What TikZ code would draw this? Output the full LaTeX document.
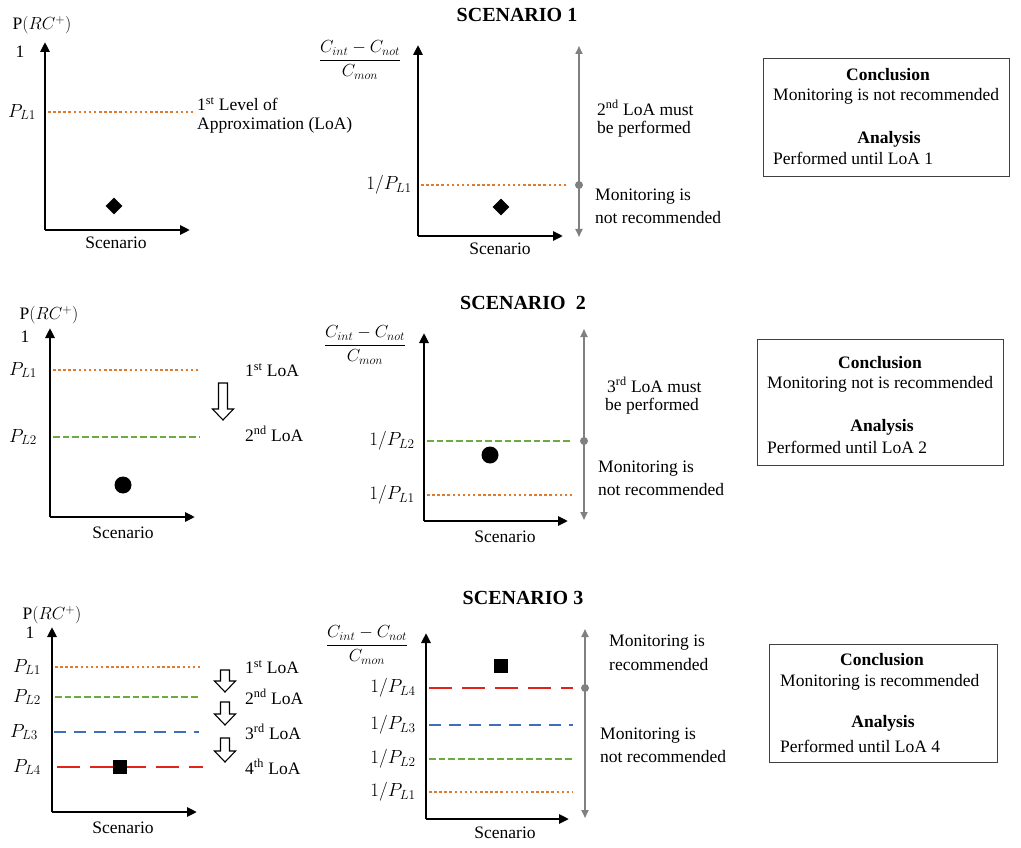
\RequirePackage{fix-cm}
\documentclass[tikz,border=0pt]{standalone}
\usepackage{amsmath}
\usepackage{fontspec}
\setmainfont{Liberation Serif}
\usetikzlibrary{arrows.meta,shapes.geometric}
\definecolor{lorange}{HTML}{E07B2E}
\definecolor{lgreen}{HTML}{6DAA3F}
\definecolor{lblue}{HTML}{3F6FB8}
\definecolor{lred}{HTML}{E2231A}
\definecolor{lgray}{HTML}{808080}
\newcommand{\hollowdown}[3]{%
  \draw[line width=1.1pt,fill=white] (#1-4.5,#2) -- (#1+4.5,#2) -- (#1+4.5,#3-11) -- (#1+10.5,#3-11) -- (#1,#3) -- (#1-10.5,#3-11) -- (#1-4.5,#3-11) -- cycle;}
\tikzset{
  txt/.style={font=\fontsize{17.5}{21}\selectfont, inner sep=0pt},
  mth/.style={font=\fontsize{19}{22}\selectfont, inner sep=0pt},
  ttl/.style={font=\fontsize{20}{24}\selectfont\bfseries, inner sep=0pt},
  bld/.style={font=\fontsize{17.5}{21}\selectfont\bfseries, inner sep=0pt},
  axis/.style={line width=2.8pt, -{Triangle[length=10pt,width=9pt]}},
  lvlA/.style={lorange, line width=2.7pt, dash pattern=on 2.5pt off 2.6pt},
  lvlB/.style={lgreen, line width=2.7pt, dash pattern=on 6.7pt off 3pt},
  lvlC/.style={lblue, line width=2.7pt, dash pattern=on 12pt off 8pt},
  lvlD/.style={lred, line width=2.9pt, dash pattern=on 23pt off 10pt},
  garrow/.style={lgray, line width=1.8pt, {Triangle[length=8pt,width=7pt]}-{Triangle[length=8pt,width=7pt]}},
  gdot/.style={circle, fill=lgray, minimum size=8pt, inner sep=0pt},
  dmd/.style={diamond, fill=black, minimum size=17pt, inner sep=0pt},
  blob/.style={circle, fill=black, minimum size=17pt, inner sep=0pt},
  sq/.style={rectangle, fill=black, minimum size=14pt, inner sep=0pt},
  cbox/.style={draw=black!75, line width=1pt, rectangle, inner sep=0pt},
}
\begin{document}
\begin{tikzpicture}[x=1pt,y=-1pt]
\useasboundingbox (0,0) rectangle (1021,848);

% ================= SCENARIO 1 =================
\coordinate (a1o) at (45,230); \coordinate (a1t) at (45,42); \coordinate (a1r) at (190,230);
\draw[axis] (a1o) -- (a1t);
\draw[axis] (a1o) -- (a1r);
\node[txt] (p1y) at (42,25) {P$(RC^{+})$};
\node[txt] (p1one) at (20,52) {1};
\node[mth] (p1l1) at (22,112) {$P_{L1}$};
\coordinate (p1l1a) at (48,112); \coordinate (p1l1b) at (193,112);
\draw[lvlA] (p1l1a) -- (p1l1b);
\node[dmd] (p1pt) at (114,206) {};
\node[txt] (p1sc) at (116,243) {Scenario};
\node[txt,anchor=west] (p1t1) at (197,104) {1\textsuperscript{st} Level of};
\node[txt,anchor=west] (p1t2) at (197,125) {Approximation (LoA)};

\node[ttl] (s1) at (517,15) {SCENARIO 1};
\node[txt] (m1frac) at (360,60) {$\dfrac{C_{int}-C_{not}}{C_{mon}}$};
\coordinate (m1o) at (418,236); \coordinate (m1t) at (418,45); \coordinate (m1r) at (563,236);
\draw[axis] (m1o) -- (m1t);
\draw[axis] (m1o) -- (m1r);
\node[mth] (m1l1) at (389,185) {$1/P_{L1}$};
\coordinate (m1l1a) at (421,185); \coordinate (m1l1b) at (566,185);
\draw[lvlA] (m1l1a) -- (m1l1b);
\node[dmd] (m1pt) at (501,207) {};
\node[txt] (m1sc) at (500,249) {Scenario};
\coordinate (g1t) at (579,46); \coordinate (g1b) at (579,237);
\draw[garrow] (g1b) -- (g1t);
\node[gdot] (g1d) at (579,185) {};
\node[txt,anchor=west] (m1a1) at (597,108) {2\textsuperscript{nd} LoA must};
\node[txt,anchor=west] (m1a2) at (597,129) {be performed};
\node[txt,anchor=west] (m1b1) at (595,197) {Monitoring is};
\node[txt,anchor=west] (m1b2) at (595,218) {not recommended};

\node[cbox, minimum width=246pt, minimum height=118pt] (box1) at (886,118) {};
\node[bld] (b1h1) at (888,75) {Conclusion};
\node[txt,anchor=west] (b1l1) at (773,96) {Monitoring is not recommended};
\node[bld] (b1h2) at (889,139) {Analysis};
\node[txt,anchor=west] (b1l2) at (773,158) {Performed until LoA 1};

% ================= SCENARIO 2 =================
\coordinate (a2o) at (50,517); \coordinate (a2t) at (50,328); \coordinate (a2r) at (195,517);
\draw[axis] (a2o) -- (a2t);
\draw[axis] (a2o) -- (a2r);
\node[txt] (p2y) at (49,315) {P$(RC^{+})$};
\node[txt] (p2one) at (25,337) {1};
\node[mth] (p2l1) at (23,370) {$P_{L1}$};
\node[mth] (p2l2) at (23,437) {$P_{L2}$};
\coordinate (p2l1a) at (53,370); \coordinate (p2l1b) at (200,370);
\coordinate (p2l2a) at (53,437); \coordinate (p2l2b) at (200,437);
\draw[lvlA] (p2l1a) -- (p2l1b);
\draw[lvlB] (p2l2a) -- (p2l2b);
\node[blob] (p2pt) at (123,485) {};
\node[txt] (p2sc) at (123,533) {Scenario};
\hollowdown{223}{383}{420}
\node[txt,anchor=west] (p2t1) at (245,370) {1\textsuperscript{st} LoA};
\node[txt,anchor=west] (p2t2) at (245,434) {2\textsuperscript{nd} LoA};

\node[ttl] (s2) at (523,303) {SCENARIO\ \ 2};
\node[txt] (m2frac) at (365,345) {$\dfrac{C_{int}-C_{not}}{C_{mon}}$};
\coordinate (m2o) at (424,521); \coordinate (m2t) at (424,333); \coordinate (m2r) at (568,521);
\draw[axis] (m2o) -- (m2t);
\draw[axis] (m2o) -- (m2r);
\node[mth] (m2l2) at (392,441) {$1/P_{L2}$};
\node[mth] (m2l1) at (392,495) {$1/P_{L1}$};
\coordinate (m2l2a) at (427,441); \coordinate (m2l2b) at (572,441);
\coordinate (m2l1a) at (427,495); \coordinate (m2l1b) at (572,495);
\draw[lvlB] (m2l2a) -- (m2l2b);
\draw[lvlA] (m2l1a) -- (m2l1b);
\node[blob] (m2pt) at (490,455) {};
\node[txt] (m2sc) at (505,537) {Scenario};
\coordinate (g2t) at (584,329); \coordinate (g2b) at (584,520);
\draw[garrow] (g2b) -- (g2t);
\node[gdot] (g2d) at (584,441) {};
\node[txt,anchor=west] (m2a1) at (607,385) {3\textsuperscript{rd} LoA must};
\node[txt,anchor=west] (m2a2) at (605,406) {be performed};
\node[txt,anchor=west] (m2b1) at (598,469) {Monitoring is};
\node[txt,anchor=west] (m2b2) at (598,490) {not recommended};

\node[cbox, minimum width=246pt, minimum height=126pt] (box2) at (880,402) {};
\node[bld] (b2h1) at (880,363) {Conclusion};
\node[txt,anchor=west] (b2l1) at (767,384) {Monitoring not is recommended};
\node[bld] (b2h2) at (882,427) {Analysis};
\node[txt,anchor=west] (b2l2) at (767,447) {Performed until LoA 2};

% ================= SCENARIO 3 =================
\coordinate (a3o) at (52,812); \coordinate (a3t) at (52,627); \coordinate (a3r) at (197,812);
\draw[axis] (a3o) -- (a3t);
\draw[axis] (a3o) -- (a3r);
\node[txt] (p3y) at (52,615) {P$(RC^{+})$};
\node[txt] (p3one) at (30,633) {1};
\node[mth] (p3l1) at (27,667) {$P_{L1}$};
\node[mth] (p3l2) at (27,697) {$P_{L2}$};
\node[mth] (p3l3) at (24,732) {$P_{L3}$};
\node[mth] (p3l4) at (27,767) {$P_{L4}$};
\coordinate (p3l1a) at (55,667); \coordinate (p3l1b) at (200,667);
\coordinate (p3l2a) at (55,697); \coordinate (p3l2b) at (200,697);
\coordinate (p3l3a) at (54,732); \coordinate (p3l3b) at (199,732);
\coordinate (p3l4a) at (57,767); \coordinate (p3l4b) at (203,767);
\draw[lvlA] (p3l1a) -- (p3l1b);
\draw[lvlB] (p3l2a) -- (p3l2b);
\draw[lvlC] (p3l3a) -- (p3l3b);
\draw[lvlD] (p3l4a) -- (p3l4b);
\node[sq] (p3pt) at (120,767) {};
\node[txt] (p3sc) at (123,828) {Scenario};
\hollowdown{225}{670}{692}
\hollowdown{225}{702}{725}
\hollowdown{225}{738}{762}
\node[txt,anchor=west] (p3t1) at (245,667) {1\textsuperscript{st} LoA};
\node[txt,anchor=west] (p3t2) at (245,697) {2\textsuperscript{nd} LoA};
\node[txt,anchor=west] (p3t3) at (245,732) {3\textsuperscript{rd} LoA};
\node[txt,anchor=west] (p3t4) at (245,767) {4\textsuperscript{th} LoA};

\node[ttl] (s3) at (523,598) {SCENARIO 3};
\node[txt] (m3frac) at (367,645) {$\dfrac{C_{int}-C_{not}}{C_{mon}}$};
\coordinate (m3o) at (426,819); \coordinate (m3t) at (426,633); \coordinate (m3r) at (569,819);
\draw[axis] (m3o) -- (m3t);
\draw[axis] (m3o) -- (m3r);
\node[mth] (m3l4) at (393,688) {$1/P_{L4}$};
\node[mth] (m3l3) at (393,725) {$1/P_{L3}$};
\node[mth] (m3l2) at (393,759) {$1/P_{L2}$};
\node[mth] (m3l1) at (393,792) {$1/P_{L1}$};
\coordinate (m3l4a) at (429,688); \coordinate (m3l4b) at (573,688);
\coordinate (m3l3a) at (429,725); \coordinate (m3l3b) at (573,725);
\coordinate (m3l2a) at (429,759); \coordinate (m3l2b) at (573,759);
\coordinate (m3l1a) at (429,792); \coordinate (m3l1b) at (573,792);
\draw[lvlD] (m3l4a) -- (m3l4b);
\draw[lvlC] (m3l3a) -- (m3l3b);
\draw[lvlB] (m3l2a) -- (m3l2b);
\draw[lvlA] (m3l1a) -- (m3l1b);
\node[sq] (m3pt) at (501,666) {};
\node[txt] (m3sc) at (505,833) {Scenario};
\coordinate (g3t) at (585,629); \coordinate (g3b) at (585,818);
\draw[garrow] (g3b) -- (g3t);
\node[gdot] (g3d) at (585,688) {};
\node[txt,anchor=west] (m3a1) at (609,643) {Monitoring is};
\node[txt,anchor=west] (m3a2) at (609,665) {recommended};
\node[txt,anchor=west] (m3b1) at (600,736) {Monitoring is};
\node[txt,anchor=west] (m3b2) at (600,757) {not recommended};

\node[cbox, minimum width=228pt, minimum height=118pt] (box3) at (883,703) {};
\node[bld] (b3h1) at (882,660) {Conclusion};
\node[txt,anchor=west] (b3l1) at (780,682) {Monitoring is recommended};
\node[bld] (b3h2) at (883,723) {Analysis};
\node[txt,anchor=west] (b3l2) at (780,746) {Performed until LoA 4};
\end{tikzpicture}
\end{document}
